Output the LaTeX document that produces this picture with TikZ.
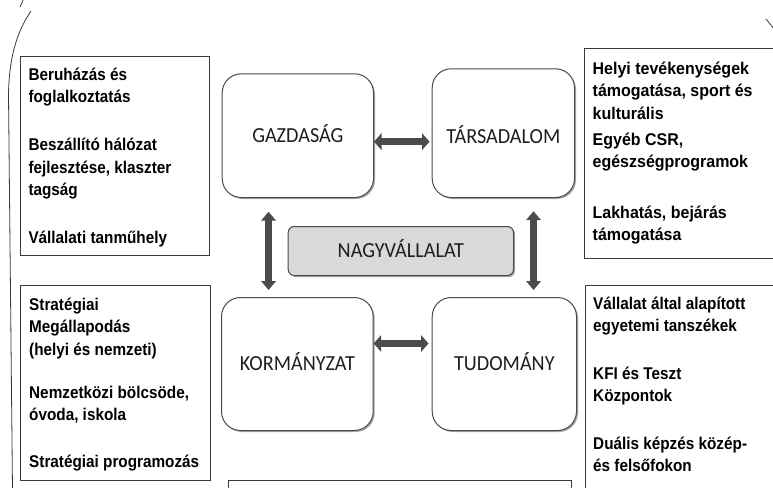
\documentclass[tikz,border=0pt]{standalone}
\usepackage{fontspec}
\usetikzlibrary{arrows.meta,shadows}
\newfontfamily\sidefont[FakeStretch=0.9]{Liberation Sans}
\newfontfamily\sidefontwide[FakeStretch=0.94]{Liberation Sans}
\newfontfamily\labfont[FakeStretch=0.94]{Carlito}
\definecolor{framegray}{HTML}{3A3A3A}
\definecolor{boxgray}{HTML}{4A4A4A}
\definecolor{arrowgray}{HTML}{4B4B4B}
\definecolor{centerfill}{HTML}{D9D9D9}
\definecolor{labcol}{HTML}{1E1E1E}
\tikzset{
  sidebox/.style={draw=framegray, line width=0.9pt, fill=none},
  sidetext/.style={font=\sidefont\bfseries\fontsize{17}{22.5}\selectfont, align=left, anchor=base west, inner sep=0pt, text=black},
  sectorbox/.style={draw=boxgray, line width=1pt, rounded corners=19pt, fill=white, anchor=north west, inner sep=0pt,
    drop shadow={shadow xshift=1.5pt, shadow yshift=-1.5pt, opacity=0.35, fill=black},
    font=\labfont\fontsize{21.5}{24}\selectfont, text=labcol, text height=13.85pt, text depth=0pt},
  centerbox/.style={draw=boxgray, line width=1pt, rounded corners=6pt, fill=centerfill, anchor=north west, inner sep=0pt,
    drop shadow={shadow xshift=1.5pt, shadow yshift=-1.5pt, opacity=0.35, fill=black},
    font=\labfont\fontsize{21.5}{24}\selectfont, text=labcol, text height=13.85pt, text depth=0pt},
  harrow/.style={draw=arrowgray, line width=7.5pt, {Triangle[width=16.5pt,length=7.5pt]}-{Triangle[width=16.5pt,length=7.5pt]}},
  varrow/.style={draw=arrowgray, line width=7.5pt, {Triangle[width=14.5pt,length=9pt]}-{Triangle[width=14.5pt,length=9pt]}},
  outline/.style={draw=framegray, line width=0.8pt}
}
\begin{document}
\begin{tikzpicture}[x=1pt,y=-1pt]
\useasboundingbox (0,0) rectangle (773,487);
\clip (0,0) rectangle (773,487);
\fill[white] (0,0) rectangle (773,487);

% outer frame fragments
\draw[outline] (31,11) .. controls (18,30) and (9,55) .. (8.5,95) -- (12.5,490);
\draw[outline] (20,7) -- (23.5,-1);
\draw[outline] (766,19) -- (774,29);

% side boxes
\draw[sidebox] (20.7,56) rectangle (209.5,255.7);
\draw[sidebox] (20.7,285.7) rectangle (210,480);
\draw[sidebox] (584.5,48.5) rectangle (780,258.5);
\draw[sidebox] (585,285.7) rectangle (780,495);
\draw[sidebox] (228,480.5) rectangle (571,495);

% left upper texts (anchored at the baseline of the last line)
\node[sidetext] (lu1) at (28.3,102.5) {Beruházás és\\foglalkoztatás};
\node[sidetext] (lu2) at (28.3,195.5) {Beszállító hálózat\\fejlesztése, klaszter\\tagság};
\node[sidetext] (lu3) at (28.3,243) {Vállalati tanműhely};

% left lower texts
\node[sidetext] (ll1) at (29,355) {Stratégiai\\Megállapodás\\(helyi és nemzeti)};
\node[sidetext] (ll2) at (29,420.5) {Nemzetközi bölcsöde,\\óvoda, iskola};
\node[sidetext] (ll3) at (29,467.3) {Stratégiai programozás};

% right upper texts
\node[sidetext, font=\sidefontwide\bfseries\fontsize{17}{22.5}\selectfont] (ru1) at (592.5,119) {Helyi tevékenységek\\támogatása, sport és\\kulturális};
\node[sidetext, font=\sidefontwide\bfseries\fontsize{17}{22}\selectfont] (ru2) at (592.5,167.7) {Egyéb CSR,\\egészségprogramok};
\node[sidetext, font=\sidefontwide\bfseries\fontsize{17}{22}\selectfont] (ru3) at (592.5,240.5) {Lakhatás, bejárás\\támogatása};

% right lower texts
\node[sidetext] (rl1) at (593,331.7) {Vállalat által alapított\\egyetemi tanszékek};
\node[sidetext] (rl2) at (593,401.7) {KFI és Teszt\\Központok};
\node[sidetext] (rl3) at (593,471.7) {Duális képzés közép-\\és felsőfokon};

% sector boxes
\node[sectorbox, minimum width=151.3pt, minimum height=123.7pt] (gaz) at (221.7,73.3) {GAZDASÁG};
\node[sectorbox, minimum width=142.3pt, minimum height=128.7pt, text height=20.85pt] (tar) at (431.7,68.3) {TÁRSADALOM};
\node[sectorbox, minimum width=151.7pt, minimum height=133pt] (kor) at (221,297) {KORMÁNYZAT};
\node[sectorbox, minimum width=144.3pt, minimum height=133pt] (tud) at (431.7,297) {TUDOMÁNY};
\node[centerbox, minimum width=225.3pt, minimum height=49pt] (nag) at (287.7,226) {NAGYVÁLLALAT};

% connectors
\draw[harrow, shorten >=2.2pt] ([yshift=-6pt]gaz.east) -- ([yshift=-6pt]gaz.east -| tar.west);
\draw[harrow, shorten >=3.2pt] ([yshift=20.5pt]kor.east) -- ([yshift=20.5pt]kor.east -| tud.west);
\draw[varrow, shorten <=13.7pt, shorten >=7pt] ([xshift=-29.3pt]gaz.south) -- ([xshift=-29.3pt]gaz.south |- kor.north);
\draw[varrow, shorten <=13.2pt, shorten >=7pt] ([xshift=30.2pt]tar.south) -- ([xshift=30.2pt]tar.south |- tud.north);
\end{tikzpicture}
\end{document}
